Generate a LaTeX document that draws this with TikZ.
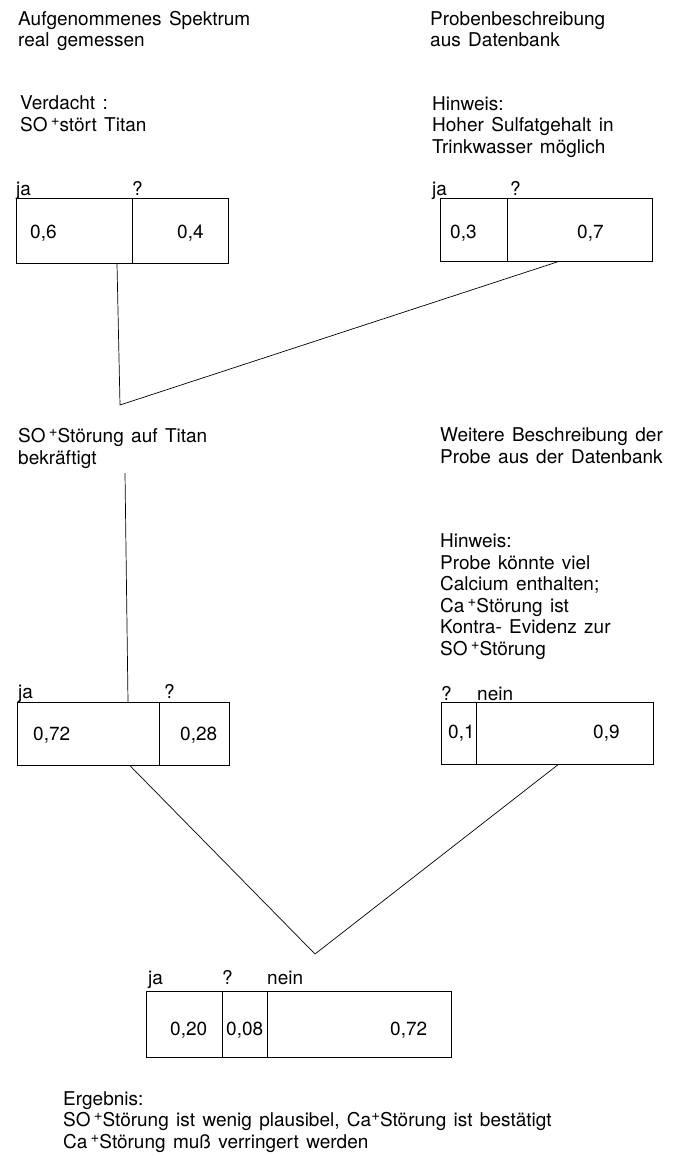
\documentclass[tikz,border=0pt]{standalone}
\usepackage{fontspec}
\setmainfont{TeX Gyre Heros}[WordSpace=1.4]
\usetikzlibrary{calc}
\newcommand{\splus}{\raisebox{0.6ex}{\fontsize{15}{15}\selectfont+}}
\tikzset{
  txt/.style={anchor=base west, inner sep=0pt, align=left,
    font=\fontsize{19}{21.5}\selectfont},
  num/.style={anchor=base west, inner sep=0pt,
    font=\fontsize{19}{21.5}\selectfont},
  cell/.style={draw, line width=0.7pt, inner sep=0pt, anchor=north west,
    minimum height=#1},
  cell/.default=64pt,
  lnk/.style={line width=0.7pt}
}
\begin{document}
\begin{tikzpicture}[x=1pt, y=-1pt]
  \useasboundingbox (0,0) rectangle (676,1156);

  % sources (anchored at the baseline of the last line)
  \node[txt] (spek) at (18,47) {Aufgenommenes Spektrum\\real gemessen};
  \node[txt] (verd) at (20,131) {Verdacht :\\SO\,\splus stört Titan};
  \node[txt] (prob) at (430,47) {Probenbeschreibung\\aus Datenbank};
  \node[txt] (hinw1) at (432,153) {Hinweis:\\Hoher Sulfatgehalt in\\Trinkwasser möglich};

  % first evidence pair
  \node[cell=65pt, minimum width=116pt] (b1a) at (16,198) {};
  \node[cell=65pt, minimum width=96pt] (b1b) at (132,198) {};
  \node[num] at (16,195) {ja};
  \node[num] at (132,195) {?};
  \node[num] at (30,238) {0,6};
  \node[num] at (177,238) {0,4};

  \node[cell=63pt, minimum width=67pt] (b2a) at (440,198) {};
  \node[cell=63pt, minimum width=145pt] (b2b) at (507,198) {};
  \node[num] at (432,195) {ja};
  \node[num] at (510,195) {?};
  \node[num] at (450,238) {0,3};
  \node[num] at (577,238) {0,7};

  \coordinate (v1) at (120,405);
  \draw[lnk] ($(b1a.south west)+(101,0)$) -- (v1) -- ($(b2b.south west)+(51,0)$);

  % combined + second description
  \node[txt] (best) at (18,464) {SO\,\splus Störung auf Titan\\bekräftigt};
  \node[txt] (weit) at (440,463) {Weitere Beschreibung der\\Probe aus der Datenbank};
  \node[txt] (hinw2) at (440,655) {Hinweis:\\Probe könnte viel\\Calcium enthalten;\\Ca\,\splus Störung ist\\Kontra- Evidenz zur\\SO\,\splus Störung};

  \node[cell=63pt, minimum width=142pt] (b3a) at (17,702) {};
  \node[cell=63pt, minimum width=70pt] (b3b) at (159,702) {};
  \node[num] at (18,698) {ja};
  \node[num] at (164,698) {?};
  \node[num] at (33,740) {0,72};
  \node[num] at (180,740) {0,28};

  \node[cell=62pt, minimum width=35pt] (b4a) at (441,702) {};
  \node[cell=62pt, minimum width=177pt] (b4b) at (476,702) {};
  \node[num] at (441,700) {?};
  \node[num] at (477,700) {nein};
  \node[num] at (448,738) {0,1};
  \node[num] at (593,738) {0,9};

  \coordinate (t3) at (125,473);
  \draw[lnk] (t3) -- ($(b3a.north west)+(111,0)$);

  \coordinate (v2) at (315,954);
  \draw[lnk] ($(b3a.south west)+(113,0)$) -- (v2) -- ($(b4b.south west)+(82,0)$);

  % result
  \node[cell=66pt, minimum width=76pt] (b5a) at (146,991) {};
  \node[cell=66pt, minimum width=45pt] (b5b) at (222,991) {};
  \node[cell=66pt, minimum width=184pt] (b5c) at (267,991) {};
  \node[num] at (148,984) {ja};
  \node[num] at (222,984) {?};
  \node[num] at (267,984) {nein};
  \node[num] at (170,1035) {0,20};
  \node[num] at (226,1035) {0,08};
  \node[num] at (390,1035) {0,72};

  \node[txt] (erg) at (63,1148) {Ergebnis:\\SO\,\splus Störung ist wenig plausibel, Ca\splus Störung ist bestätigt\\Ca\,\splus Störung muß verringert werden};
\end{tikzpicture}
\end{document}
